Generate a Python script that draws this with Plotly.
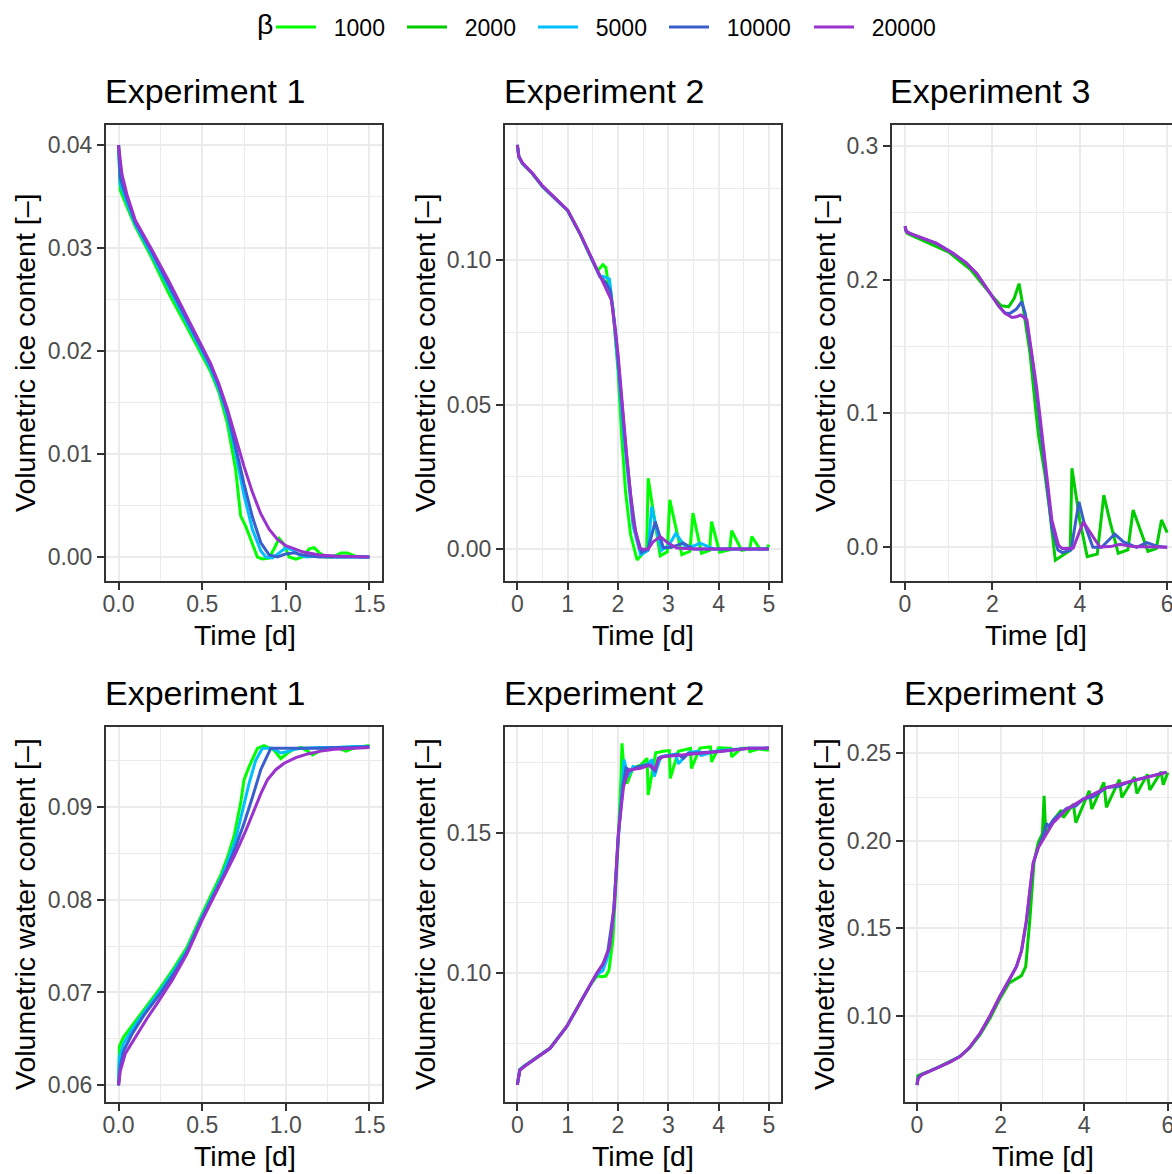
import plotly.graph_objects as go

# ---------------- data ----------------
betas = ["1000", "2000", "5000", "10000", "20000"]
colors = ["#00FF00", "#00CD00", "#00BFFF", "#3A5FCD", "#9A32CD"]

# Experiment 1 - ice
e1_ice_t_1000 = [0, 0.01, 0.05, 0.1, 0.2, 0.3, 0.4, 0.5, 0.55, 0.6, 0.65, 0.7, 0.73, 0.76, 0.8, 0.83, 0.86, 0.9, 0.93, 0.96, 0.99, 1.02, 1.06, 1.1, 1.14, 1.17, 1.2, 1.24, 1.28, 1.33, 1.37, 1.41, 1.45, 1.5]
e1_ice_1000 = [0.0400, 0.0356, 0.0340, 0.0321, 0.0290, 0.0256, 0.0226, 0.0196, 0.0180, 0.0160, 0.0130, 0.0085, 0.0040, 0.0030, 0.0012, 0.0000, -0.0002, -0.0001, 0.0008, 0.0018, 0.0012, 0.0000, -0.0002, 0.0000, 0.0008, 0.0009, 0.0004, 0.0000, 0.0000, 0.0004, 0.0004, 0.0001, 0.0000, 0.0000]
e1_ice_t_5000 = [0, 0.01, 0.05, 0.1, 0.2, 0.3, 0.4, 0.5, 0.55, 0.6, 0.65, 0.7, 0.75, 0.8, 0.85, 0.88, 0.92, 0.96, 1.0, 1.04, 1.08, 1.12, 1.2, 1.3, 1.5]
e1_ice_5000 = [0.0400, 0.0362, 0.0344, 0.0323, 0.0293, 0.0261, 0.0230, 0.0199, 0.0183, 0.0163, 0.0137, 0.0100, 0.0060, 0.0027, 0.0006, 0.0000, -0.0001, 0.0004, 0.0009, 0.0007, 0.0002, 0.0000, 0.0001, 0.0000, 0.0000]
e1_ice_t_10000 = [0, 0.01, 0.05, 0.1, 0.2, 0.3, 0.4, 0.5, 0.55, 0.6, 0.65, 0.7, 0.75, 0.8, 0.85, 0.9, 0.95, 1.0, 1.05, 1.1, 1.2, 1.5]
e1_ice_10000 = [0.0400, 0.0368, 0.0348, 0.0325, 0.0296, 0.0265, 0.0233, 0.0202, 0.0186, 0.0166, 0.0141, 0.0107, 0.0071, 0.0039, 0.0014, 0.0002, 0.0000, 0.0003, 0.0004, 0.0002, 0.0000, 0.0000]
e1_ice_t_20000 = [0, 0.02, 0.05, 0.1, 0.2, 0.3, 0.4, 0.5, 0.55, 0.6, 0.65, 0.7, 0.75, 0.8, 0.85, 0.9, 0.95, 1.0, 1.1, 1.2, 1.3, 1.5]
e1_ice_20000 = [0.0400, 0.0372, 0.0352, 0.0327, 0.0298, 0.0268, 0.0236, 0.0205, 0.0188, 0.0168, 0.0144, 0.0116, 0.0088, 0.0063, 0.0042, 0.0027, 0.0017, 0.0011, 0.0005, 0.0002, 0.0001, 0.0000]

# Experiment 2 - ice
e2_ice_t_1000 = [0, 0.03, 0.1, 0.3, 0.5, 0.75, 1.0, 1.25, 1.5, 1.6, 1.7, 1.76, 1.82, 1.9, 2.0, 2.07, 2.15, 2.25, 2.38, 2.5, 2.57, 2.6, 2.84, 2.98, 3.03, 3.27, 3.43, 3.49, 3.66, 3.82, 3.86, 4.02, 4.22, 4.26, 4.46, 4.62, 4.66, 4.82, 4.96, 5.0]
e2_ice_1000 = [0.140, 0.136, 0.1335, 0.1300, 0.1255, 0.1215, 0.1172, 0.1090, 0.0995, 0.0965, 0.0985, 0.0975, 0.0905, 0.0835, 0.0620, 0.0400, 0.0200, 0.0050, -0.0038, -0.0015, -0.0005, 0.0245, -0.0024, -0.0010, 0.0170, -0.0020, -0.0008, 0.0124, -0.0015, -0.0005, 0.0095, -0.0011, -0.0003, 0.0063, -0.0005, 0.0000, 0.0043, 0.0000, 0.0000, 0.0015]
e2_ice_t_5000 = [0, 0.03, 0.1, 0.3, 0.5, 0.75, 1.0, 1.25, 1.5, 1.64, 1.7, 1.83, 1.9, 2.0, 2.1, 2.2, 2.3, 2.45, 2.6, 2.67, 2.86, 3.0, 3.15, 3.35, 3.5, 3.63, 3.9, 5.0]
e2_ice_5000 = [0.140, 0.136, 0.1336, 0.1301, 0.1256, 0.1216, 0.1173, 0.1091, 0.0998, 0.0945, 0.0945, 0.0935, 0.0830, 0.0640, 0.0420, 0.0240, 0.0080, -0.0020, -0.0005, 0.0147, -0.0005, 0.0010, 0.0054, 0.0005, 0.0010, 0.0020, 0.0000, 0.0000]
e2_ice_t_10000 = [0, 0.03, 0.1, 0.3, 0.5, 0.75, 1.0, 1.25, 1.5, 1.64, 1.75, 1.85, 1.95, 2.05, 2.15, 2.25, 2.35, 2.47, 2.6, 2.74, 2.9, 3.05, 3.3, 3.5, 5.0]
e2_ice_10000 = [0.140, 0.136, 0.1337, 0.1301, 0.1257, 0.1216, 0.1173, 0.1091, 0.0999, 0.0944, 0.0925, 0.0895, 0.0760, 0.0560, 0.0360, 0.0190, 0.0060, -0.0012, 0.0000, 0.0095, 0.0005, 0.0005, 0.0020, 0.0000, 0.0000]
e2_ice_t_20000 = [0, 0.03, 0.1, 0.3, 0.5, 0.75, 1.0, 1.25, 1.5, 1.64, 1.75, 1.87, 2.0, 2.1, 2.17, 2.3, 2.43, 2.5, 2.6, 2.7, 2.84, 3.0, 3.17, 3.5, 4.0, 5.0]
e2_ice_20000 = [0.140, 0.136, 0.1338, 0.1302, 0.1258, 0.1217, 0.1174, 0.1092, 0.1000, 0.0943, 0.0905, 0.0862, 0.0678, 0.0470, 0.0331, 0.0100, 0.0002, -0.0001, 0.0000, 0.0025, 0.0043, 0.0020, 0.0003, 0.0000, 0.0000, 0.0000]

# Experiment 3 - ice
e3_ice_t_2000 = [0, 0.05, 0.15, 0.5, 1.0, 1.5, 2.0, 2.2, 2.37, 2.5, 2.61, 2.7, 2.86, 3.0, 3.06, 3.2, 3.3, 3.44, 3.6, 3.78, 3.82, 4.0, 4.17, 4.4, 4.55, 4.7, 4.88, 5.1, 5.22, 5.4, 5.56, 5.75, 5.87, 6.0]
e3_ice_2000 = [0.238, 0.2345, 0.233, 0.228, 0.2205, 0.2075, 0.1875, 0.1805, 0.1797, 0.1860, 0.1970, 0.1800, 0.1450, 0.1000, 0.0826, 0.0550, 0.0300, -0.0097, -0.0060, -0.0024, 0.0590, 0.0200, -0.0070, -0.0050, 0.0390, 0.0180, -0.0045, -0.0020, 0.0279, 0.0110, -0.0030, -0.0010, 0.0204, 0.0110]
e3_ice_t_10000 = [0, 0.03, 0.11, 0.4, 0.72, 1.1, 1.4, 1.64, 1.8, 2.0, 2.15, 2.29, 2.4, 2.55, 2.67, 2.75, 2.9, 3.01, 3.12, 3.23, 3.36, 3.5, 3.6, 3.8, 3.98, 4.1, 4.3, 4.5, 4.8, 5.0, 5.3, 5.53, 5.8, 6.0]
e3_ice_10000 = [0.240, 0.236, 0.2345, 0.231, 0.227, 0.2196, 0.2125, 0.2046, 0.1970, 0.1870, 0.1800, 0.1750, 0.1747, 0.1780, 0.1834, 0.1750, 0.1430, 0.1150, 0.0850, 0.0520, 0.0150, -0.0020, -0.0040, -0.0020, 0.0340, 0.0180, 0.0000, 0.0000, 0.0099, 0.0040, 0.0000, 0.0035, 0.0005, 0.0000]
e3_ice_t_20000 = [0, 0.03, 0.11, 0.4, 0.72, 1.1, 1.4, 1.64, 1.8, 2.0, 2.15, 2.29, 2.45, 2.55, 2.65, 2.79, 2.9, 3.01, 3.12, 3.23, 3.36, 3.51, 3.6, 3.85, 4.08, 4.3, 4.46, 4.7, 4.92, 5.2, 6.0]
e3_ice_20000 = [0.240, 0.236, 0.2345, 0.231, 0.227, 0.2196, 0.2125, 0.2046, 0.1970, 0.1870, 0.1800, 0.1747, 0.1717, 0.1722, 0.1735, 0.1700, 0.1450, 0.1200, 0.0890, 0.0577, 0.0204, 0.0017, -0.0010, -0.0005, 0.0191, 0.0080, 0.0002, 0.0005, 0.0022, 0.0005, 0.0000]

# Experiment 1 - water
e1_wat_t_1000 = [0, 0.005, 0.03, 0.08, 0.15, 0.25, 0.33, 0.41, 0.5, 0.57, 0.61, 0.65, 0.69, 0.73, 0.75, 0.78, 0.83, 0.87, 0.93, 0.97, 1.01, 1.05, 1.09, 1.13, 1.16, 1.2, 1.25, 1.3, 1.36, 1.42, 1.48, 1.5]
e1_wat_1000 = [0.0600, 0.0642, 0.0652, 0.0664, 0.0681, 0.0705, 0.0726, 0.0749, 0.0785, 0.0810, 0.0826, 0.0845, 0.0868, 0.0904, 0.0929, 0.0943, 0.0963, 0.0966, 0.0961, 0.0952, 0.0958, 0.0962, 0.0964, 0.0960, 0.0956, 0.0960, 0.0963, 0.0964, 0.0960, 0.0964, 0.0966, 0.0966]
e1_wat_t_5000 = [0, 0.005, 0.03, 0.08, 0.15, 0.25, 0.33, 0.41, 0.5, 0.57, 0.61, 0.65, 0.7, 0.74, 0.78, 0.82, 0.86, 0.92, 0.97, 1.0, 1.05, 1.1, 1.2, 1.3, 1.4, 1.5]
e1_wat_5000 = [0.0600, 0.0630, 0.0645, 0.0660, 0.0678, 0.0702, 0.0723, 0.0746, 0.0782, 0.0807, 0.0822, 0.0840, 0.0865, 0.0895, 0.0925, 0.0950, 0.0963, 0.0963, 0.0958, 0.0959, 0.0962, 0.0963, 0.0964, 0.0964, 0.0965, 0.0965]
e1_wat_t_10000 = [0, 0.01, 0.03, 0.08, 0.15, 0.25, 0.33, 0.41, 0.5, 0.57, 0.61, 0.65, 0.7, 0.75, 0.8, 0.85, 0.91, 1.0, 1.1, 1.2, 1.3, 1.4, 1.5]
e1_wat_10000 = [0.0600, 0.0620, 0.0637, 0.0655, 0.0675, 0.0699, 0.0720, 0.0744, 0.0780, 0.0805, 0.0819, 0.0834, 0.0857, 0.0882, 0.0910, 0.0940, 0.0963, 0.0963, 0.0963, 0.0963, 0.0964, 0.0964, 0.0965]
e1_wat_t_20000 = [0, 0.01, 0.04, 0.1, 0.17, 0.23, 0.32, 0.41, 0.5, 0.55, 0.62, 0.7, 0.76, 0.81, 0.85, 0.89, 0.94, 0.99, 1.06, 1.13, 1.21, 1.29, 1.4, 1.5]
e1_wat_20000 = [0.0600, 0.0615, 0.0634, 0.0652, 0.0672, 0.0688, 0.0713, 0.0742, 0.0778, 0.0796, 0.0821, 0.0850, 0.0874, 0.0896, 0.0914, 0.0929, 0.0940, 0.0947, 0.0953, 0.0957, 0.0960, 0.0962, 0.0963, 0.0964]

# Experiment 2 - water
e2_wat_t_1000 = [0, 0.05, 0.15, 0.32, 0.65, 0.98, 1.24, 1.45, 1.58, 1.68, 1.76, 1.82, 1.9, 2.0, 2.06, 2.08, 2.13, 2.18, 2.3, 2.45, 2.58, 2.6, 2.75, 2.9, 3.02, 3.04, 3.2, 3.4, 3.44, 3.46, 3.63, 3.8, 3.84, 3.86, 4.0, 4.2, 4.24, 4.26, 4.45, 4.6, 4.62, 4.8, 5.0]
e2_wat_1000 = [0.0603, 0.0658, 0.0672, 0.0693, 0.0734, 0.0811, 0.0893, 0.0958, 0.0990, 0.0988, 0.0990, 0.1010, 0.1120, 0.1450, 0.1700, 0.1818, 0.1700, 0.1675, 0.1730, 0.1740, 0.1765, 0.1634, 0.1784, 0.1790, 0.1792, 0.1693, 0.1790, 0.1800, 0.1800, 0.1729, 0.1801, 0.1805, 0.1805, 0.1752, 0.1802, 0.1800, 0.1800, 0.1770, 0.1800, 0.1800, 0.1788, 0.1798, 0.1793]
e2_wat_t_5000 = [0, 0.05, 0.15, 0.32, 0.65, 0.98, 1.24, 1.45, 1.58, 1.7, 1.8, 1.9, 2.0, 2.08, 2.12, 2.2, 2.3, 2.4, 2.5, 2.6, 2.68, 2.72, 2.85, 3.0, 3.15, 3.2, 3.4, 3.6, 3.65, 4.0, 4.6, 5.0]
e2_wat_5000 = [0.0603, 0.0657, 0.0671, 0.0692, 0.0733, 0.0810, 0.0893, 0.0959, 0.0995, 0.1010, 0.1060, 0.1180, 0.1460, 0.1680, 0.1760, 0.1700, 0.1735, 0.1730, 0.1740, 0.1745, 0.1760, 0.1700, 0.1770, 0.1775, 0.1780, 0.1745, 0.1785, 0.1790, 0.1775, 0.1792, 0.1800, 0.1801]
e2_wat_t_10000 = [0, 0.05, 0.15, 0.32, 0.65, 0.98, 1.24, 1.45, 1.58, 1.7, 1.8, 1.92, 2.0, 2.1, 2.16, 2.25, 2.4, 2.6, 2.74, 2.8, 2.9, 3.2, 3.3, 3.4, 4.0, 4.6, 5.0]
e2_wat_10000 = [0.0603, 0.0656, 0.0670, 0.0692, 0.0733, 0.0810, 0.0893, 0.0960, 0.1000, 0.1030, 0.1080, 0.1230, 0.1480, 0.1670, 0.1730, 0.1720, 0.1735, 0.1742, 0.1720, 0.1765, 0.1772, 0.1778, 0.1765, 0.1782, 0.1789, 0.1800, 0.1801]
e2_wat_t_20000 = [0, 0.05, 0.15, 0.32, 0.65, 0.98, 1.24, 1.45, 1.58, 1.71, 1.84, 1.93, 2.01, 2.11, 2.21, 2.45, 2.65, 2.74, 2.8, 2.9, 3.3, 3.96, 4.62, 5.0]
e2_wat_20000 = [0.0603, 0.0656, 0.0670, 0.0692, 0.0733, 0.0810, 0.0893, 0.0960, 0.1000, 0.1036, 0.1095, 0.1249, 0.1500, 0.1663, 0.1723, 0.1729, 0.1741, 0.1723, 0.1760, 0.1770, 0.1776, 0.1788, 0.1800, 0.1801]

# Experiment 3 - water
e3_wat_t_2000 = [0, 0.02, 0.11, 0.3, 0.55, 0.8, 1.03, 1.25, 1.51, 1.75, 1.98, 2.2, 2.38, 2.5, 2.6, 2.7, 2.8, 2.9, 3.0, 3.04, 3.08, 3.3, 3.45, 3.5, 3.74, 3.8, 4.12, 4.18, 4.47, 4.53, 4.84, 4.9, 5.2, 5.26, 5.51, 5.57, 5.84, 5.89, 6.0]
e3_wat_2000 = [0.0602, 0.0655, 0.0665, 0.0682, 0.0709, 0.0737, 0.0767, 0.0812, 0.0890, 0.0985, 0.1095, 0.1185, 0.1210, 0.1228, 0.1280, 0.1550, 0.1880, 0.1990, 0.2040, 0.2257, 0.2040, 0.2130, 0.2175, 0.2133, 0.2210, 0.2104, 0.2286, 0.2181, 0.2334, 0.2191, 0.2350, 0.2248, 0.2365, 0.2270, 0.2380, 0.2290, 0.2395, 0.2320, 0.2390]
e3_wat_t_10000 = [0, 0.03, 0.11, 0.3, 0.55, 0.8, 1.03, 1.25, 1.51, 1.75, 1.98, 2.2, 2.38, 2.5, 2.62, 2.7, 2.78, 2.9, 3.02, 3.1, 3.15, 3.26, 3.4, 3.58, 3.8, 3.98, 4.2, 4.54, 4.8, 5.17, 5.6, 5.97]
e3_wat_10000 = [0.0602, 0.0645, 0.0662, 0.0681, 0.0708, 0.0736, 0.0766, 0.0815, 0.0898, 0.0998, 0.1108, 0.1200, 0.1280, 0.1370, 0.1540, 0.1710, 0.1870, 0.1960, 0.2030, 0.2100, 0.2080, 0.2120, 0.2150, 0.2185, 0.2200, 0.2240, 0.2250, 0.2305, 0.2310, 0.2345, 0.2370, 0.2393]
e3_wat_t_20000 = [0, 0.03, 0.11, 0.3, 0.55, 0.8, 1.03, 1.25, 1.51, 1.75, 1.98, 2.2, 2.38, 2.5, 2.62, 2.7, 2.78, 2.9, 3.02, 3.26, 3.58, 3.98, 4.54, 5.17, 5.6, 5.97]
e3_wat_20000 = [0.0602, 0.0640, 0.0660, 0.0680, 0.0707, 0.0735, 0.0765, 0.0815, 0.0899, 0.1000, 0.1109, 0.1200, 0.1281, 0.1370, 0.1550, 0.1720, 0.1875, 0.1960, 0.2009, 0.2104, 0.2181, 0.2238, 0.2305, 0.2343, 0.2370, 0.2392]

panel_titles = ["Experiment 1", "Experiment 2", "Experiment 3",
                "Experiment 1", "Experiment 2", "Experiment 3"]
ylabels = ["Volumetric ice content [\u2013]", "Volumetric water content [\u2013]"]
xlabel = "Time [d]"
legend_title = "\u03b2"

# series per panel: (beta, t, values)
panels = [
    [("1000", e1_ice_t_1000, e1_ice_1000), ("5000", e1_ice_t_5000, e1_ice_5000),
     ("10000", e1_ice_t_10000, e1_ice_10000), ("20000", e1_ice_t_20000, e1_ice_20000)],
    [("1000", e2_ice_t_1000, e2_ice_1000), ("5000", e2_ice_t_5000, e2_ice_5000),
     ("10000", e2_ice_t_10000, e2_ice_10000), ("20000", e2_ice_t_20000, e2_ice_20000)],
    [("2000", e3_ice_t_2000, e3_ice_2000), ("10000", e3_ice_t_10000, e3_ice_10000),
     ("20000", e3_ice_t_20000, e3_ice_20000)],
    [("1000", e1_wat_t_1000, e1_wat_1000), ("5000", e1_wat_t_5000, e1_wat_5000),
     ("10000", e1_wat_t_10000, e1_wat_10000), ("20000", e1_wat_t_20000, e1_wat_20000)],
    [("1000", e2_wat_t_1000, e2_wat_1000), ("5000", e2_wat_t_5000, e2_wat_5000),
     ("10000", e2_wat_t_10000, e2_wat_10000), ("20000", e2_wat_t_20000, e2_wat_20000)],
    [("2000", e3_wat_t_2000, e3_wat_2000), ("10000", e3_wat_t_10000, e3_wat_10000),
     ("20000", e3_wat_t_20000, e3_wat_20000)],
]

# ---------------- layout geometry (pixels) ----------------
W, H = 1172, 1174
def px(x): return x / W
def py(y): return 1 - y / H

panel_px = [  # x0, x1, y0(top), y1(bottom)
    (106, 382, 125, 581), (505, 781, 125, 581), (892, 1172, 125, 581),
    (106, 382, 727, 1102), (505, 781, 727, 1102), (905, 1172, 727, 1102),
]
xranges = [[-0.075, 1.575], [-0.245, 5.24], [-0.2975, 6.11],
           [-0.075, 1.575], [-0.245, 5.24], [-0.287, 6.10]]
yranges = [[-0.00233, 0.04194], [-0.0111, 0.1469], [-0.0252, 0.3155],
           [0.0582, 0.0986], [0.0542, 0.1876], [0.0505, 0.2651]]
xdticks = [0.5, 1, 2, 0.5, 1, 2]
xfmt = [".1f", "d", "d", ".1f", "d", "d"]
ydticks = [0.01, 0.05, 0.1, 0.01, 0.05, 0.05]
yfmt = [".2f", ".2f", ".1f", ".2f", ".2f", ".2f"]

FONT = "Liberation Sans, Arial, Helvetica, sans-serif"
GRID = "#EBEBEB"
DARK = "#333333"

fig = go.Figure()
shown = set()
for i, series in enumerate(panels):
    ax = "" if i == 0 else str(i + 1)
    for beta, t, v in series:
        k = betas.index(beta)
        show = beta not in shown
        shown.add(beta)
        fig.add_trace(go.Scatter(
            x=t, y=v, mode="lines", name="\u00a0\u00a0" + beta,
            line=dict(color=colors[k], width=3),
            legendgroup=beta, showlegend=show, legendrank=k + 1,
            legendwidth=(90 if len(beta) > 4 else 76),
            xaxis="x" + ax, yaxis="y" + ax,
        ))

layout_axes = {}
for i in range(6):
    x0, x1, y0, y1 = panel_px[i]
    sfx = "" if i == 0 else str(i + 1)
    right_col = i in (2, 5)
    common = dict(
        showgrid=True, gridcolor=GRID, gridwidth=2.2,
        showline=True, linecolor=DARK, linewidth=2,
        ticks="outside", ticklen=7, tickwidth=2, tickcolor=DARK,
        zeroline=False, automargin=False, tick0=0,
        tickfont=dict(family=FONT, size=23, color="#4D4D4D"),
    )
    layout_axes["xaxis" + sfx] = dict(
        common, domain=[px(x0), px(x1)], range=xranges[i],
        anchor="y" + sfx, dtick=xdticks[i], tickformat=xfmt[i], mirror=True,
        ticklabelstandoff=-6, ticklabeloverflow="allow",
        minor=dict(dtick=xdticks[i] / 2, tick0=0, showgrid=True,
                   gridcolor=GRID, gridwidth=1.1),
    )
    layout_axes["yaxis" + sfx] = dict(
        common, domain=[py(y1), py(y0)], range=yranges[i],
        anchor="x" + sfx, dtick=ydticks[i], tickformat=yfmt[i],
        mirror=(not right_col),
        minor=dict(dtick=ydticks[i] / 2, tick0=0, showgrid=True,
                   gridcolor=GRID, gridwidth=1.1),
    )

annotations = []
title_pos = [(103, 91), (502, 91), (888, 91), (103, 693), (502, 693), (902, 693)]
xlab_pos = [(245, 635), (643, 635), (1036, 635), (245, 1156), (643, 1156), (1043, 1156)]
ylab_pos = [(25, 353), (425, 353), (825, 353), (25, 914), (425, 914), (824, 914)]
for i in range(6):
    tx, ty = title_pos[i]
    annotations.append(dict(text=panel_titles[i], x=px(tx), y=py(ty), xref="paper", yref="paper",
                            xanchor="left", yanchor="middle", showarrow=False,
                            font=dict(family=FONT, size=34, color="black")))
    lx, ly = xlab_pos[i]
    annotations.append(dict(text=xlabel, x=px(lx), y=py(ly), xref="paper", yref="paper",
                            xanchor="center", yanchor="middle", showarrow=False,
                            font=dict(family=FONT, size=28.5, color="black")))
    yx, yy = ylab_pos[i]
    annotations.append(dict(text=ylabels[0] if i < 3 else ylabels[1], x=px(yx), y=py(yy),
                            xref="paper", yref="paper", textangle=-90,
                            xanchor="center", yanchor="middle", showarrow=False,
                            font=dict(family=FONT, size=28.5, color="black")))
# legend title (beta)
annotations.append(dict(text=legend_title, x=px(265), y=py(24), xref="paper", yref="paper",
                        xanchor="center", yanchor="middle", showarrow=False,
                        font=dict(family=FONT, size=28.5, color="black")))

fig.update_layout(
    width=W, height=H,
    margin=dict(l=0, r=0, t=0, b=0),
    paper_bgcolor="white", plot_bgcolor="white",
    font=dict(family=FONT, color="black"),
    showlegend=True,
    legend=dict(
        orientation="h", x=px(271), xanchor="left", y=py(27), yanchor="middle",
        font=dict(family=FONT, size=23, color="black"),
        itemwidth=40, bgcolor="rgba(0,0,0,0)", borderwidth=0,
        traceorder="normal",
    ),
    annotations=annotations,
    **layout_axes,
)

fig.write_html("out.html")
